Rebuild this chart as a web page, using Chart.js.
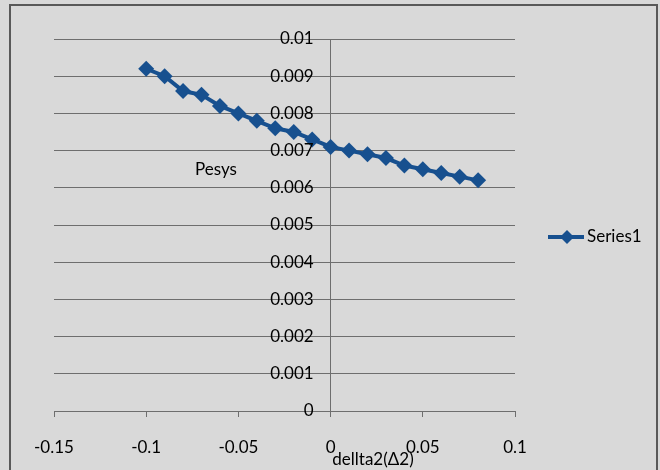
<!DOCTYPE html>
<html lang="en">

<head>
    <meta charset="UTF-8">
    <title>Pesys vs dellta2</title>
    <script src="https://cdn.jsdelivr.net/npm/chart.js"></script>
    <style>
        html, body {
            margin: 0;
            padding: 0;
            background: #d9d9d9;
            overflow: hidden;
        }

        .frame {
            position: absolute;
            left: 9px;
            top: 4px;
            width: 649px;
            height: 500px;
            box-sizing: border-box;
            border: 2px solid #595959;
        }

        .chart-container {
            position: absolute;
            left: 0;
            top: 0;
            width: 660px;
            height: 470px;
        }
    </style>
</head>

<body>
    <div class="frame"></div>
    <div class="chart-container">
        <canvas id="pesysChart"></canvas>
    </div>

    <script>
        // data
        const delta2 = [-0.1, -0.09, -0.08, -0.07, -0.06, -0.05, -0.04, -0.03, -0.02, -0.01,
            0, 0.01, 0.02, 0.03, 0.04, 0.05, 0.06, 0.07, 0.08];
        const pesys = [0.0092, 0.0090, 0.0086, 0.0085, 0.0082, 0.0080, 0.0078, 0.0076, 0.0075, 0.0073,
            0.0071, 0.0070, 0.0069, 0.0068, 0.0066, 0.0065, 0.0064, 0.0063, 0.0062];
        const xTickLabels = ['-0.15', '-0.1', '-0.05', '0', '0.05', '0.1'];
        const yTickLabels = ['0', '0.001', '0.002', '0.003', '0.004', '0.005',
            '0.006', '0.007', '0.008', '0.009', '0.01'];
        const seriesName = 'Series1';
        const xTitle = 'dellta2(\u03942)';
        const yTitle = 'Pesys';

        const blue = '#17508f';
        const axisGray = '#6e6e6e';
        const fontFamily = "Lato, 'Open Sans', sans-serif";
        const fontSize = 17;

        // y labels sit left of the crossing axis, plus axis titles and legend
        const extras = {
            id: 'extras',
            afterDraw(chart) {
                const ctx = chart.ctx;
                const xs = chart.scales.x;
                const ys = chart.scales.y;
                const axisX = xs.getPixelForValue(0);
                ctx.save();
                ctx.font = fontSize + 'px ' + fontFamily;
                ctx.fillStyle = '#000';

                ctx.textAlign = 'right';
                ctx.textBaseline = 'middle';
                ys.ticks.forEach((t, i) => {
                    ctx.fillText(yTickLabels[i], axisX - 17, ys.getPixelForValue(t.value));
                });

                ctx.textAlign = 'center';
                ctx.fillText(yTitle, 216, 170);
                ctx.fillText(xTitle, 373, 460);

                // legend
                const ly = 237;
                ctx.strokeStyle = blue;
                ctx.lineWidth = 4;
                ctx.beginPath();
                ctx.moveTo(548, ly);
                ctx.lineTo(584, ly);
                ctx.stroke();
                ctx.fillStyle = blue;
                ctx.beginPath();
                ctx.moveTo(567, ly - 7);
                ctx.lineTo(574, ly);
                ctx.lineTo(567, ly + 7);
                ctx.lineTo(560, ly);
                ctx.closePath();
                ctx.fill();
                ctx.fillStyle = '#000';
                ctx.textAlign = 'left';
                ctx.fillText(seriesName, 587, ly);
                ctx.restore();
            }
        };

        const ctx = document.getElementById('pesysChart').getContext('2d');
        new Chart(ctx, {
            type: 'scatter',
            data: {
                datasets: [{
                    label: seriesName,
                    data: delta2.map((x, i) => ({ x: x, y: pesys[i] })),
                    showLine: true,
                    borderColor: blue,
                    backgroundColor: blue,
                    borderWidth: 4,
                    pointStyle: 'rectRot',
                    pointRadius: 8,
                    pointHoverRadius: 8,
                    pointBorderWidth: 0
                }]
            },
            options: {
                responsive: true,
                maintainAspectRatio: false,
                animation: false,
                layout: {
                    padding: { left: 54, right: 145, top: 39, bottom: 0 }
                },
                plugins: {
                    legend: { display: false },
                    tooltip: { enabled: false }
                },
                scales: {
                    x: {
                        type: 'linear',
                        position: 'bottom',
                        min: -0.15,
                        max: 0.1,
                        ticks: {
                            stepSize: 0.05,
                            padding: 20,
                            color: '#000',
                            font: { family: fontFamily, size: fontSize },
                            maxRotation: 0,
                            callback: (value, index) => xTickLabels[index]
                        },
                        grid: {
                            drawOnChartArea: false,
                            drawTicks: true,
                            tickLength: 6,
                            color: axisGray
                        },
                        border: { display: true, color: axisGray },
                        afterFit: scale => { scale.height = 59; }
                    },
                    y: {
                        type: 'linear',
                        position: { x: 0 },
                        min: 0,
                        max: 0.01,
                        ticks: {
                            stepSize: 0.001,
                            display: false
                        },
                        grid: {
                            drawTicks: false,
                            color: axisGray
                        },
                        border: { display: true, color: axisGray }
                    }
                }
            },
            plugins: [extras]
        });
    </script>
</body>

</html>
